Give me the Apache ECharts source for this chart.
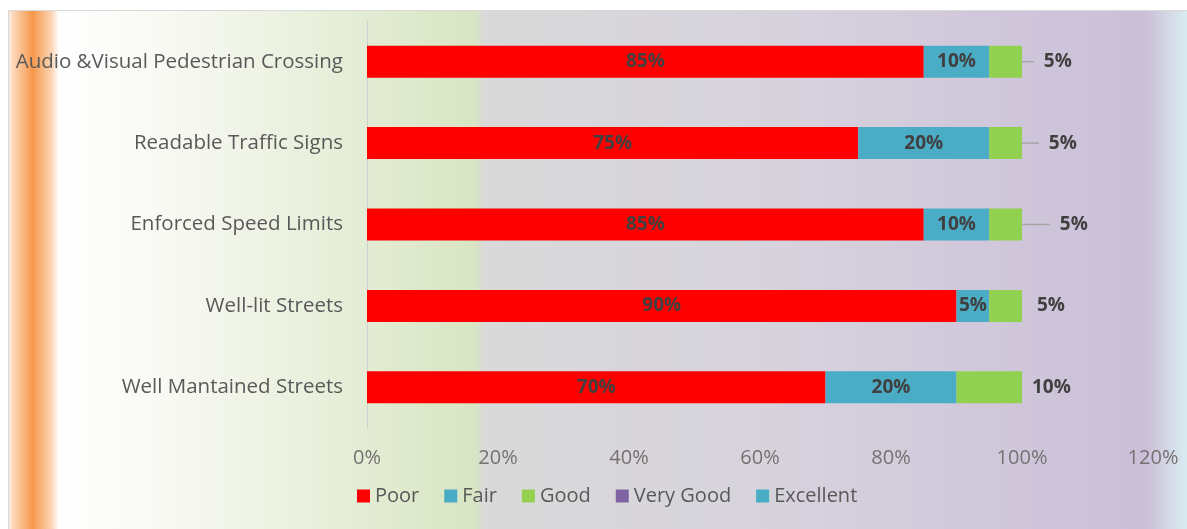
<!DOCTYPE html>
<html><head><meta charset="utf-8">
<script src="https://cdn.jsdelivr.net/npm/echarts@6/dist/echarts.min.js"></script>
<style>html,body{margin:0;padding:0;background:#fff}#c{width:1187px;height:529px}</style>
</head><body><div id="c"></div>
<script>
const categories = ['Audio &Visual Pedestrian Crossing','Readable Traffic Signs','Enforced Speed Limits','Well-lit Streets','Well Mantained Streets'];
const poor = [85, 75, 85, 90, 70];
const fair = [10, 20, 10, 5, 20];
const good = [5, 5, 5, 5, 10];
const veryGood = [];
const excellent = [];
const goodLabelShift = [12, 17, 28, 15, 10];
const goodLeaderLine = [true, true, true, false, false];

const chart = echarts.init(document.getElementById('c'));
const FONT = '"Open Sans", sans-serif';
const inLabel = {show:true, position:'inside', formatter:'{c}%', color:'#404040', fontWeight:'bold', fontSize:19, fontFamily:FONT};
chart.setOption({
  animation:false,
  graphic:[{
    type:'rect', left:8, top:10, z:-10,
    shape:{width:1179, height:530},
    style:{
      stroke:'#d9d9d9', lineWidth:1,
      fill:new echarts.graphic.LinearGradient(0,0,1,0,[
        {offset:0.000, color:'#f7f3ee'},
        {offset:0.004, color:'#fcd9bb'},
        {offset:0.021, color:'#f5984a'},
        {offset:0.037, color:'#fbd6b6'},
        {offset:0.043, color:'#ffffff'},
        {offset:0.15, color:'#f6f8f0'},
        {offset:0.396, color:'#d8e5c3'},
        {offset:0.403, color:'#d9d9d9'},
        {offset:0.65, color:'#d7d3dd'},
        {offset:0.965, color:'#cbbfd9'},
        {offset:0.98, color:'#d2d4e2'},
        {offset:1.0, color:'#d9edf3'}
      ])
    }
  }],
  grid:{left:367, right:34, top:21, bottom:101},
  legend:{
    left:352, top:481, icon:'rect', itemWidth:13, itemHeight:13, itemGap:25, itemTextGap:6,
    textStyle:{color:'#595959', fontSize:20, fontFamily:FONT},
    data:['Poor','Fair','Good','Very Good','Excellent']
  },
  xAxis:{
    type:'value', min:0, max:120, interval:20,
    axisLabel:{formatter:'{value}%', color:'#767171', fontSize:20, fontFamily:FONT, margin:20},
    splitLine:{show:false}, axisLine:{show:false}, axisTick:{show:false}
  },
  yAxis:{
    type:'category', inverse:true, data:categories,
    axisLabel:{color:'#595959', fontSize:20.5, fontFamily:FONT, margin:24},
    axisLine:{show:true, lineStyle:{color:'#d0d0d0', width:1}},
    axisTick:{show:false}
  },
  series:[
    {name:'Poor', type:'bar', stack:'s', data:poor, barWidth:32, itemStyle:{color:'#ff0000'}, label:inLabel},
    {name:'Fair', type:'bar', stack:'s', data:fair, itemStyle:{color:'#4bacc6'}, label:inLabel},
    {name:'Good', type:'bar', stack:'s', itemStyle:{color:'#92d050'},
      data:good.map((v,i)=>({value:v, labelLine:{show:goodLeaderLine[i]},
        label:{formatter: goodLeaderLine[i] ? '  {c}%' : '{c}%'}})),
      label:{show:true, position:'right', distance:0, color:'#404040', fontWeight:'bold', fontSize:19, fontFamily:FONT},
      labelLine:{show:true, lineStyle:{color:'#a6a6a6', width:1.5}},
      labelLayout:function(p){ return {dx: goodLabelShift[p.dataIndex]}; }
    },
    {name:'Very Good', type:'bar', stack:'s', data:veryGood, itemStyle:{color:'#8064a2'}},
    {name:'Excellent', type:'bar', stack:'s', data:excellent, itemStyle:{color:'#4bacc6'}}
  ]
});
</script></body></html>
